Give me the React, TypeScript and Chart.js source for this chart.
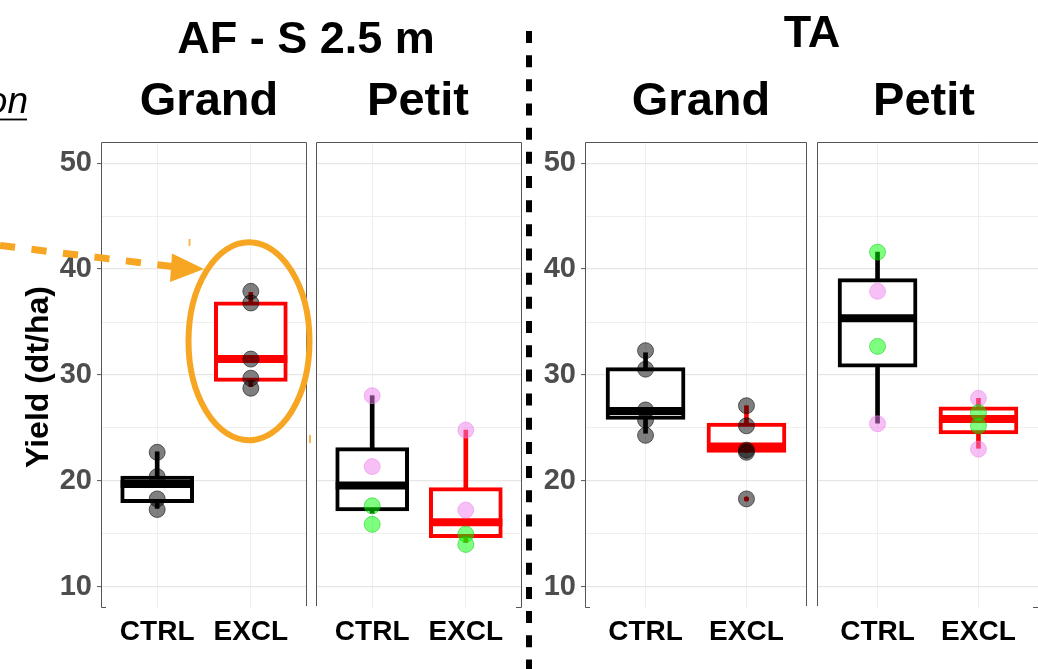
import React, { useEffect, useRef } from 'react';
import { Chart, registerables } from 'chart.js';

Chart.register(...registerables);

const FONT = '"Liberation Sans", Arial, Helvetica, sans-serif';

// ---- categories & ticks ----
const GROUPS = ['CTRL', 'EXCL'];
const Y_MAJOR = [10, 20, 30, 40, 50];
const Y_MINOR = [15, 25, 35, 45];
const Y_MIN = 8;
const Y_MAX = 52;

// ---- AF - S 2.5 m / Grand ----
const AFG_MIN = [17.4, 28.9];
const AFG_Q1 = [17.95, 29.4];
const AFG_MED = [19.7, 31.5];
const AFG_Q3 = [20.45, 36.9];
const AFG_MAX = [22.75, 37.8];
const AFG_GREY_CTRL = [22.7, 20.4, 18.3, 17.3];
const AFG_GREY_EXCL = [37.9, 36.8, 31.5, 29.7, 28.75];

// ---- AF - S 2.5 m / Petit ----
const AFP_MIN = [16.95, 14.2];
const AFP_Q1 = [17.17, 14.65];
const AFP_MED = [19.56, 16.1];
const AFP_Q3 = [23.15, 19.37];
const AFP_MAX = [28.05, 24.8];
const AFP_PINK_CTRL = [28.05, 21.35];
const AFP_PINK_EXCL = [24.8, 17.25];
const AFP_GREEN_CTRL = [17.65, 15.9];
const AFP_GREEN_EXCL = [14.97, 14.0];

// ---- TA / Grand ----
const TAG_MIN = [24.5, 22.7];
const TAG_Q1 = [25.8, 22.7];
const TAG_MED = [26.6, 23.25];
const TAG_Q3 = [30.7, 25.45];
const TAG_MAX = [32.1, 27.1];
const TAG_GREY_CTRL = [32.3, 30.55, 26.7, 25.75, 24.3];
const TAG_GREY_EXCL = [27.1, 25.2, 22.9, 22.7, 18.3];
const TAG_OUTLIER_EXCL = [18.3];

// ---- TA / Petit ----
const TAP_MIN = [25.45, 23.08];
const TAP_Q1 = [30.73, 24.43];
const TAP_MED = [35.35, 25.85];
const TAP_Q3 = [39.1, 27.0];
const TAP_MAX = [41.6, 27.8];
const TAP_GREEN_CTRL = [41.6, 32.7];
const TAP_GREEN_EXCL = [26.45, 25.2];
const TAP_PINK_CTRL = [37.9, 25.4];
const TAP_PINK_EXCL = [27.8, 23.0];

// ---- styles ----
const BOX_COLORS = ['#000000', '#FF0000'];
const GREY = { fill: 'rgba(0,0,0,0.5)', border: 'rgba(0,0,0,0.55)' };
const PINK = { fill: 'rgba(238,130,238,0.5)', border: 'rgba(238,130,238,0.5)' };
const GREEN = { fill: 'rgba(0,255,0,0.5)', border: 'rgba(0,200,0,0.5)' };
const ORANGE = '#F6A623';
const GRID_MAJOR = '#E6E6E6';
const GRID_MINOR = '#EFEFEF';

const TOP = 142;
const BOTTOM = 608;
const H = 669;

const PANELS = [
  {
    left: 101, right: 307, axis: true, boxW: 73,
    stats: [AFG_MIN, AFG_Q1, AFG_MED, AFG_Q3, AFG_MAX],
    points: [{ style: GREY, ctrl: AFG_GREY_CTRL, excl: AFG_GREY_EXCL }],
    outliers: { ctrl: [] as number[], excl: [] as number[] },
  },
  {
    left: 316, right: 522, axis: false, boxW: 73,
    stats: [AFP_MIN, AFP_Q1, AFP_MED, AFP_Q3, AFP_MAX],
    points: [
      { style: PINK, ctrl: AFP_PINK_CTRL, excl: AFP_PINK_EXCL },
      { style: GREEN, ctrl: AFP_GREEN_CTRL, excl: AFP_GREEN_EXCL },
    ],
    outliers: { ctrl: [] as number[], excl: [] as number[] },
  },
  {
    left: 585, right: 807, axis: true, boxW: 79,
    stats: [TAG_MIN, TAG_Q1, TAG_MED, TAG_Q3, TAG_MAX],
    points: [{ style: GREY, ctrl: TAG_GREY_CTRL, excl: TAG_GREY_EXCL }],
    outliers: { ctrl: [] as number[], excl: TAG_OUTLIER_EXCL },
  },
  {
    left: 817, right: 1039, axis: false, boxW: 79,
    stats: [TAP_MIN, TAP_Q1, TAP_MED, TAP_Q3, TAP_MAX],
    points: [
      { style: GREEN, ctrl: TAP_GREEN_CTRL, excl: TAP_GREEN_EXCL },
      { style: PINK, ctrl: TAP_PINK_CTRL, excl: TAP_PINK_EXCL },
    ],
    outliers: { ctrl: [] as number[], excl: [] as number[] },
  },
];

function axisWidth(p: any) {
  return p.axis ? 60 : 2;
}

const toXY = (ctrl: number[], excl: number[]) =>
  ctrl.map((y) => ({ x: 1, y })).concat(excl.map((y) => ({ x: 2, y })));

const borderPlugin = (cornerLeft: boolean) => ({
  id: 'panelBorder',
  afterDraw(chart: any) {
    const { ctx, chartArea: a } = chart;
    ctx.save();
    ctx.strokeStyle = '#555555';
    ctx.lineWidth = 1;
    ctx.beginPath();
    ctx.moveTo(a.left + 0.5, a.bottom - 2);
    ctx.lineTo(a.left + 0.5, a.top + 0.5);
    ctx.lineTo(a.right - 0.5, a.top + 0.5);
    ctx.lineTo(a.right - 0.5, a.bottom - 2);
    ctx.stroke();
    ctx.beginPath();
    if (cornerLeft) {
      ctx.moveTo(a.left + 0.5, a.bottom - 2);
      ctx.lineTo(a.left + 0.5, a.bottom - 0.5);
      ctx.lineTo(a.left + 5, a.bottom - 0.5);
    } else {
      ctx.moveTo(a.right - 0.5, a.bottom - 2);
      ctx.lineTo(a.right - 0.5, a.bottom - 0.5);
      ctx.lineTo(a.right - 6, a.bottom - 0.5);
    }
    ctx.stroke();
    ctx.restore();
  },
});

function makeConfig(p: any) {
  const [mn, q1, med, q3, mx] = p.stats;
  const aw = axisWidth(p);
  const datasets: any[] = [
    {
      type: 'bar',
      data: GROUPS.map((_, i) => ({ x: i + 1, y: [mn[i], mx[i]] })),
      backgroundColor: BOX_COLORS,
      borderWidth: 0,
      barThickness: 4,
      grouped: false,
      order: 4,
    },
    {
      type: 'bar',
      data: GROUPS.map((_, i) => ({ x: i + 1, y: [q1[i], q3[i]] })),
      backgroundColor: '#FFFFFF',
      borderColor: BOX_COLORS,
      borderWidth: 4,
      borderSkipped: false,
      barThickness: p.boxW,
      grouped: false,
      order: 3,
    },
    {
      type: 'scatter',
      data: GROUPS.map((_, i) => ({ x: i + 1, y: med[i] })),
      pointStyle: 'line',
      pointRadius: p.boxW / 2,
      pointBorderWidth: 8,
      pointBorderColor: BOX_COLORS,
      pointBackgroundColor: BOX_COLORS,
      order: 2,
    },
    {
      type: 'scatter',
      data: toXY(p.outliers.ctrl, p.outliers.excl),
      pointRadius: 2.6,
      pointBorderWidth: 0,
      pointBackgroundColor: '#FF0000',
      order: 1,
    },
  ];
  p.points.forEach((ps: any) => {
    datasets.push({
      type: 'scatter',
      data: toXY(ps.ctrl, ps.excl),
      pointRadius: 8,
      pointBorderWidth: 1,
      pointBackgroundColor: ps.style.fill,
      pointBorderColor: ps.style.border,
      order: 0,
    });
  });

  return {
    type: 'bar',
    data: { datasets },
    options: {
      animation: false,
      responsive: false,
      events: [],
      layout: { padding: { top: TOP, bottom: 0, left: 0, right: 2 }, autoPadding: false },
      plugins: { legend: { display: false }, tooltip: { enabled: false } },
      scales: {
        x: {
          type: 'linear',
          min: 0.4,
          max: 2.6,
          offset: false,
          afterBuildTicks: (s: any) => {
            s.ticks = GROUPS.map((_, i) => ({ value: i + 1 }));
          },
          afterFit: (s: any) => {
            s.height = H - BOTTOM;
          },
          ticks: {
            callback: (v: any) => GROUPS[Math.round(v) - 1] ?? '',
            font: { family: FONT, size: 28, weight: 'bold' },
            color: '#000000',
            padding: 7,
            maxRotation: 0,
            autoSkip: false,
          },
          grid: { offset: false, color: GRID_MINOR, lineWidth: 1, drawTicks: false },
          border: { display: false },
        },
        y: {
          type: 'linear',
          min: Y_MIN,
          max: Y_MAX,
          afterBuildTicks: (s: any) => {
            s.ticks = [...Y_MAJOR, ...Y_MINOR].sort((a, b) => a - b).map((v) => ({ value: v }));
          },
          afterFit: (s: any) => {
            s.width = aw;
          },
          ticks: {
            display: p.axis,
            callback: (v: any) => (Y_MAJOR.includes(v) ? String(v) : ''),
            font: { family: FONT, size: 29, weight: 'bold' },
            color: '#4D4D4D',
            padding: 5,
            autoSkip: false,
          },
          grid: {
            color: (c: any) => (Y_MAJOR.includes(c.tick?.value) ? GRID_MAJOR : GRID_MINOR),
            lineWidth: (c: any) => (Y_MAJOR.includes(c.tick?.value) ? 1.2 : 1),
            drawTicks: p.axis,
            tickLength: 4,
            tickWidth: 1,
            tickColor: (c: any) => (Y_MAJOR.includes(c.tick?.value) ? '#555555' : 'rgba(0,0,0,0)'),
          },
          border: { display: false },
        },
      },
    },
    plugins: [borderPlugin(p.axis)],
  };
}

export default function App() {
  const refs = useRef<(HTMLCanvasElement | null)[]>([]);

  useEffect(() => {
    const charts = PANELS.map((p, i) => new Chart(refs.current[i] as any, makeConfig(p) as any));
    return () => charts.forEach((c) => c.destroy());
  }, []);

  const textProps = { fontFamily: FONT, fontWeight: 'bold' as const, fill: '#000', textAnchor: 'middle' as const };

  return (
    <div
      style={{
        position: 'fixed',
        left: 0,
        top: 0,
        width: 1038,
        height: 669,
        overflow: 'hidden',
        background: '#ffffff',
      }}
    >
      {PANELS.map((p, i) => {
        const aw = axisWidth(p);
        const w = p.right - p.left + aw + 2;
        return (
          <canvas
            key={i}
            ref={(el) => {
              refs.current[i] = el;
            }}
            width={w}
            height={H}
            style={{ position: 'absolute', left: p.left - aw, top: 0, width: w, height: H }}
          />
        );
      })}
      <svg
        width={1038}
        height={669}
        style={{ position: 'absolute', left: 0, top: 0, pointerEvents: 'none' }}
      >
        <text x={306} y={53} fontSize={45} {...textProps}>AF - S 2.5 m</text>
        <text x={812} y={47} fontSize={45} {...textProps}>TA</text>
        <text x={209} y={115} fontSize={47} {...textProps}>Grand</text>
        <text x={418} y={115} fontSize={47} {...textProps}>Petit</text>
        <text x={701} y={115} fontSize={47} {...textProps}>Grand</text>
        <text x={924} y={115} fontSize={47} {...textProps}>Petit</text>
        <text
          transform="translate(37,377) rotate(-90)"
          fontSize={32}
          dominantBaseline="central"
          {...textProps}
        >
          Yield (dt/ha)
        </text>
        <text x={28} y={113} fontSize={37} fontStyle="italic" fontFamily={FONT} textAnchor="end" fill="#000">
          on
        </text>
        <line x1={0} y1={119.5} x2={27} y2={119.5} stroke="#000" strokeWidth={1.8} />

        <line
          x1={529}
          y1={31}
          x2={529}
          y2={669}
          stroke="#000"
          strokeWidth={6}
          strokeDasharray="12 12.17"
        />

        <line
          x1={0}
          y1={245.5}
          x2={173}
          y2={266.6}
          stroke={ORANGE}
          strokeWidth={7}
          strokeDasharray="15.2 16.5"
        />
        <polygon points="172,253.5 204,269 170,282" fill={ORANGE} />
        <ellipse cx={249} cy={341.3} rx={60.5} ry={99} fill="none" stroke={ORANGE} strokeWidth={6} />
        <rect x={188.5} y={239} width={2} height={7} fill={ORANGE} opacity={0.8} />
        <rect x={309} y={435} width={2} height={8} fill={ORANGE} opacity={0.8} />
      </svg>
    </div>
  );
}
